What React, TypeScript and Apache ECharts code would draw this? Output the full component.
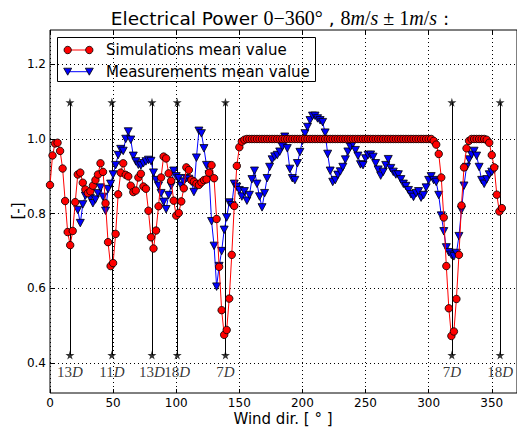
import React, { useEffect, useRef } from "react";
import * as echarts from "echarts";

// Wind direction sampling (degrees)
const DIRS = [
  0, 2, 4, 6, 8, 10, 12, 14, 16, 18,
  20, 22, 24, 26, 28, 30, 32, 34, 36, 38,
  40, 42, 44, 46, 48, 50, 52, 54, 56, 58,
  60, 62, 64, 66, 68, 70, 72, 74, 76, 78,
  80, 82, 84, 86, 88, 90, 92, 94, 96, 98,
  100, 102, 104, 106, 108, 110, 112, 114, 116, 118,
  120, 122, 124, 126, 128, 130, 132, 134, 136, 138,
  140, 142, 144, 146, 148, 150, 152, 154, 156, 158,
  160, 162, 164, 166, 168, 170, 172, 174, 176, 178,
  180, 182, 184, 186, 188, 190, 192, 194, 196, 198,
  200, 202, 204, 206, 208, 210, 212, 214, 216, 218,
  220, 222, 224, 226, 228, 230, 232, 234, 236, 238,
  240, 242, 244, 246, 248, 250, 252, 254, 256, 258,
  260, 262, 264, 266, 268, 270, 272, 274, 276, 278,
  280, 282, 284, 286, 288, 290, 292, 294, 296, 298,
  300, 302, 304, 306, 308, 310, 312, 314, 316, 318,
  320, 322, 324, 326, 328, 330, 332, 334, 336, 338,
  340, 342, 344, 346, 348, 350, 352, 354, 356, 358,
];

// Simulations mean value
const SIM = [
  0.877, 0.956, 0.988, 0.99, 0.968, 0.921, 0.834, 0.751, 0.716, 0.754,
  0.831, 0.905, 0.91, 0.883, 0.865, 0.855, 0.86, 0.875, 0.89, 0.905,
  0.935, 0.912, 0.828, 0.724, 0.66, 0.668, 0.746, 0.852, 0.91, 0.935,
  0.904, 0.9, 0.875, 0.858, 0.862, 0.897, 0.907, 0.873, 0.867, 0.808,
  0.737, 0.707, 0.755, 0.82, 0.897, 0.953, 0.948, 0.908, 0.888, 0.835,
  0.795, 0.802, 0.833, 0.868, 0.924, 0.917, 0.89, 0.886, 0.88, 0.877,
  0.884, 0.89, 0.892, 0.91, 0.93, 0.895, 0.786, 0.658, 0.542, 0.476,
  0.489, 0.573, 0.69, 0.821, 0.928, 0.978, 0.993, 0.998, 1.0, 1.0,
  1.0, 1.0, 1.0, 1.0, 1.0, 1.0, 1.0, 1.0, 1.0, 1.0,
  1.0, 1.0, 1.0, 1.0, 1.0, 1.0, 1.0, 1.0, 1.0, 1.0,
  1.0, 1.0, 1.0, 1.0, 1.0, 1.0, 1.0, 1.0, 1.0, 1.0,
  1.0, 1.0, 1.0, 1.0, 1.0, 1.0, 1.0, 1.0, 1.0, 1.0,
  1.0, 1.0, 1.0, 1.0, 1.0, 1.0, 1.0, 1.0, 1.0, 1.0,
  1.0, 1.0, 1.0, 1.0, 1.0, 1.0, 1.0, 1.0, 1.0, 1.0,
  1.0, 1.0, 1.0, 1.0, 1.0, 1.0, 1.0, 1.0, 1.0, 1.0,
  1.0, 1.0, 0.995, 0.985, 0.96, 0.897, 0.79, 0.66, 0.547, 0.473,
  0.485, 0.572, 0.69, 0.822, 0.924, 0.975, 0.995, 1.0, 1.0, 1.0,
  1.0, 1.0, 1.0, 0.998, 0.99, 0.957, 0.924, 0.851, 0.806, 0.815,
];

// Measurements mean value (null = no measurement)
const MEAS = [
  null, null, null, null, null, null, null, null, null, null,
  null, 0.81, 0.775, 0.825, 0.848, 0.856, 0.842, 0.828, 0.838, 0.855,
  0.87, 0.845, 0.808, 0.866, 0.88, 0.905, 0.93, 0.957, 0.973, 0.968,
  1.0, 1.02, 0.998, 0.955, 0.94, 0.931, 0.929, 0.935, 0.94, 0.944,
  0.941, 0.91, 0.89, 0.875, 0.855, 0.832, 0.812, 0.85, 0.875, 0.915,
  0.9, 0.895, 0.875, 0.886, 0.895, 0.893, 0.886, 0.858, 0.95, 1.022,
  1.015, 0.975, 0.93, 0.905, 0.78, 0.714, 0.605, 0.66, 0.7, 0.757,
  0.79, 0.83, 0.823, 0.88, 0.872, 0.863, 0.846, 0.86, 0.835, 0.85,
  0.892, 0.915, 0.88, 0.846, 0.817, 0.855, 0.895, 0.925, 0.945, 0.953,
  0.957, 0.966, 0.98, 1.006, 0.975, 0.92, 0.895, 0.89, 0.935, 0.965,
  0.995, 1.015, 1.032, 1.05, 1.062, 1.062, 1.055, 1.05, 1.045, 1.017,
  0.96, 0.915, 0.885, 0.89, 0.904, 0.913, 0.925, 0.945, 0.966, 0.979,
  0.987, 0.97, 0.955, 0.932, 0.93, 0.948, 0.957, 0.958, 0.952, 0.935,
  0.918, 0.902, 0.912, 0.93, 0.946, 0.922, 0.912, 0.905, 0.905, 0.892,
  0.88, 0.874, 0.863, 0.852, 0.845, 0.855, 0.86, 0.843, 0.85, 0.87,
  0.89, 0.9, 0.89, 0.885, 0.85, 0.795, 0.753, 0.71, 0.697, 0.69,
  0.686, 0.695, 0.74, 0.81, 0.875, 0.925, 0.945, 0.958, 0.968, 0.955,
  0.925, 0.89, 0.88, 0.892, 0.905, 0.912, 0.918, null, null, null,
];

// Wake directions of neighbouring turbines and their distances
const WAKE_DIRS = [15.8, 49, 80.8, 100.8, 139, 318.4, 356.6];
const WAKE_DIST = ["13", "11", "13", "18", "7", "7", "18"];
const WAKE_LOW = 0.422;
const WAKE_HIGH = 1.098;
const WAKE_LABEL_Y = 0.377;

const X_TICKS = [0, 50, 100, 150, 200, 250, 300, 350];
const Y_TICKS = [0.4, 0.6, 0.8, 1.0, 1.2];

const STAR =
  "path://M50,0 L61,35 L98,35 L68,57 L79,91 L50,70 L21,91 L32,57 L2,35 L39,35 Z";

const SANS = "DejaVu Sans";
const SERIF = "Liberation Serif";

function buildOption() {
  const simData = SIM.map((v, i) => [DIRS[i], v]);
  const measData = MEAS.map((v, i) => (v == null ? null : [DIRS[i], v])).filter(
    (p) => p !== null
  );
  const starData: number[][] = [];
  WAKE_DIRS.forEach((d) => {
    starData.push([d, WAKE_LOW]);
    starData.push([d, WAKE_HIGH]);
  });
  const labelData = WAKE_DIRS.map((d, i) => ({
    value: [d, WAKE_LABEL_Y],
    dist: WAKE_DIST[i],
  }));

  const tickStyle = { color: "#000", width: 1 };

  return {
    animation: false,
    backgroundColor: "#fff",
    grid: {
      left: 50,
      top: 30,
      width: 468.67,
      height: 363,
      show: true,
      borderColor: "#000",
      borderWidth: 1,
      backgroundColor: "transparent",
    },
    xAxis: [
      {
        type: "value",
        min: 0,
        max: 370,
        axisLine: { show: false },
        axisTick: {
          show: true,
          inside: true,
          length: 4,
          customValues: X_TICKS,
          lineStyle: tickStyle,
        },
        axisLabel: {
          customValues: X_TICKS,
          color: "#000",
          fontFamily: SANS,
          fontSize: 12,
          margin: 4,
        },
        splitLine: {
          show: true,
          lineStyle: { color: "#000", width: 1, type: [1, 3] },
        },
      },
      {
        type: "value",
        position: "top",
        min: 0,
        max: 370,
        axisLine: { show: false },
        axisTick: {
          show: true,
          inside: true,
          length: 4,
          customValues: X_TICKS,
          lineStyle: tickStyle,
        },
        axisLabel: { show: false },
        splitLine: { show: false },
      },
    ],
    yAxis: [
      {
        type: "value",
        min: 0.3204,
        max: 1.2916,
        axisLine: { show: false },
        axisTick: {
          show: true,
          inside: true,
          length: 4,
          customValues: Y_TICKS,
          lineStyle: tickStyle,
        },
        axisLabel: {
          customValues: Y_TICKS,
          formatter: (v: number) => v.toFixed(1),
          color: "#000",
          fontFamily: SANS,
          fontSize: 12,
          margin: 4,
        },
        splitLine: {
          show: true,
          lineStyle: { color: "#000", width: 1, type: [1, 3] },
        },
      },
    ],
    graphic: [
      {
        type: "text",
        x: 280,
        y: 18,
        style: {
          text:
            "{a|Electrical Power }{b|0−360°}{a| , }{b|8}{i|m}{b|/}{i|s}{b| ± 1}{i|m}{b|/}{i|s}{a| :}",
          align: "center",
          verticalAlign: "middle",
          fill: "#000",
          rich: {
            a: { fontFamily: SANS, fontSize: 18.5, fill: "#000" },
            b: { fontFamily: SERIF, fontSize: 20, fill: "#000" },
            i: { fontFamily: SERIF, fontSize: 20, fontStyle: "italic", fill: "#000" },
          },
        },
      },
      {
        type: "text",
        x: 283,
        y: 419,
        style: {
          text: "Wind dir. [ ° ]",
          font: `15px "${SANS}"`,
          fill: "#000",
          align: "center",
          verticalAlign: "middle",
        },
      },
      {
        type: "text",
        x: 18,
        y: 211,
        rotation: Math.PI / 2,
        style: {
          text: "[-]",
          font: `15px "${SANS}"`,
          fill: "#000",
          align: "center",
          verticalAlign: "middle",
        },
      },
      {
        type: "group",
        z: 100,
        children: [
          {
            type: "rect",
            shape: { x: 57.5, y: 37.5, width: 258, height: 44 },
            style: { fill: "#fff", stroke: "#000", lineWidth: 1 },
          },
          {
            type: "line",
            shape: { x1: 67.7, y1: 50, x2: 89.3, y2: 50 },
            style: { stroke: "#ff0000", lineWidth: 1 },
          },
          {
            type: "circle",
            shape: { cx: 67.7, cy: 50, r: 3.7 },
            style: { fill: "#ff0000", stroke: "#000", lineWidth: 0.8 },
          },
          {
            type: "circle",
            shape: { cx: 89.3, cy: 50, r: 3.7 },
            style: { fill: "#ff0000", stroke: "#000", lineWidth: 0.8 },
          },
          {
            type: "text",
            x: 106,
            y: 50,
            style: {
              text: "Simulations mean value",
              font: `15px "${SANS}"`,
              fill: "#000",
              verticalAlign: "middle",
            },
          },
          {
            type: "line",
            shape: { x1: 67.7, y1: 71.7, x2: 89.3, y2: 71.7 },
            style: { stroke: "#0000ff", lineWidth: 1 },
          },
          {
            type: "polygon",
            shape: {
              points: [
                [63.7, 68.2],
                [71.7, 68.2],
                [67.7, 75.2],
              ],
            },
            style: { fill: "#0000ff", stroke: "#000", lineWidth: 0.8 },
          },
          {
            type: "polygon",
            shape: {
              points: [
                [85.3, 68.2],
                [93.3, 68.2],
                [89.3, 75.2],
              ],
            },
            style: { fill: "#0000ff", stroke: "#000", lineWidth: 0.8 },
          },
          {
            type: "text",
            x: 106,
            y: 72,
            style: {
              text: "Measurements mean value",
              font: `15px "${SANS}"`,
              fill: "#000",
              verticalAlign: "middle",
            },
          },
        ],
      },
    ],
    series: [
      {
        type: "lines",
        coordinateSystem: "cartesian2d",
        silent: true,
        z: 1,
        data: WAKE_DIRS.map((d) => ({
          coords: [
            [d, WAKE_LOW],
            [d, WAKE_HIGH],
          ],
        })),
        lineStyle: { color: "#000", width: 1, opacity: 1 },
      },
      {
        type: "scatter",
        silent: true,
        z: 1,
        symbol: STAR,
        symbolSize: 9,
        itemStyle: { color: "#000" },
        data: starData,
      },
      {
        name: "Measurements mean value",
        type: "line",
        silent: true,
        z: 2,
        data: measData,
        symbol: "triangle",
        symbolRotate: 180,
        symbolSize: [8, 7.5],
        itemStyle: { color: "#0000ff", borderColor: "#000", borderWidth: 0.8 },
        lineStyle: { color: "#0000ff", width: 1 },
      },
      {
        name: "Simulations mean value",
        type: "line",
        silent: true,
        z: 3,
        data: simData,
        symbol: "circle",
        symbolSize: 7.5,
        itemStyle: { color: "#ff0000", borderColor: "#000", borderWidth: 0.8 },
        lineStyle: { color: "#ff0000", width: 1 },
      },
      {
        type: "scatter",
        silent: true,
        z: 4,
        symbolSize: 0,
        itemStyle: { color: "transparent" },
        data: labelData,
        label: {
          show: true,
          position: "inside",
          formatter: (p: any) => `{n|${p.data.dist}}{d|D}`,
          rich: {
            n: { fontFamily: SERIF, fontSize: 15, color: "#000" },
            d: { fontFamily: SERIF, fontSize: 15, fontStyle: "italic", color: "#000" },
          },
        },
      },
    ],
  };
}

export default function App() {
  const ref = useRef<HTMLDivElement>(null);
  useEffect(() => {
    if (!ref.current) return;
    const chart = echarts.init(ref.current, null, { renderer: "svg" });
    chart.setOption(buildOption() as any);
    return () => chart.dispose();
  }, []);
  return (
    <div
      ref={ref}
      style={{
        position: "fixed",
        left: 0,
        top: 0,
        width: 517,
        height: 428,
        background: "#fff",
      }}
    />
  );
}
